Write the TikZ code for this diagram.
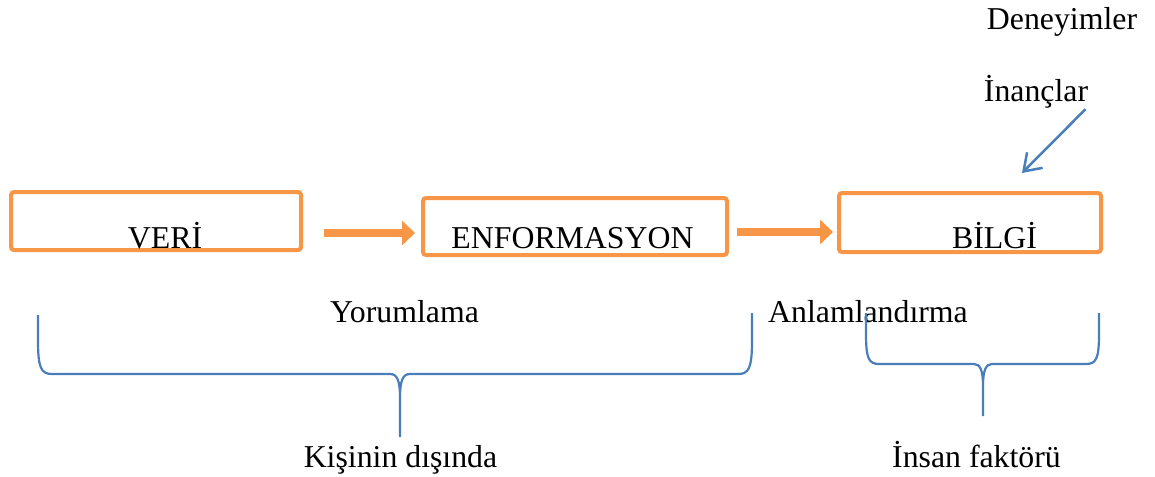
\documentclass[tikz,border=0pt]{standalone}
\usepackage{fontspec}
\setmainfont{Liberation Serif}
\usetikzlibrary{arrows.meta}
\definecolor{boxorange}{HTML}{F79646}
\definecolor{linkblue}{HTML}{4A7EBB}
\begin{document}
\begin{tikzpicture}[x=0.5pt,y=-0.5pt,
  every node/.style={font=\fontsize{15.9}{19}\selectfont},
  txt/.style={anchor=base,inner sep=0pt},
  stagebox/.style={draw=boxorange,line width=2pt,rounded corners=1.5pt,inner sep=0pt},
  flowarrow/.style={draw=boxorange,line width=4pt,-{Triangle[length=6.5pt,width=12pt]}},
  beliefarrow/.style={draw=linkblue,line width=1.25pt,-{Straight Barb[length=8pt,width=11pt]}},
  bracket/.style={draw=linkblue,line width=1.1pt}]
\useasboundingbox (0,0) rectangle (1155,476);

% stages
\node[stagebox,minimum width=145pt,minimum height=29pt] (veri) at (156,221) {};
\node[stagebox,minimum width=152pt,minimum height=28.5pt] (enf) at (575,226.5) {};
\node[stagebox,minimum width=131pt,minimum height=29.5pt] (bilgi) at (970,222.5) {};
\node[txt] (veritxt) at (165,248) {VERİ};
\node[txt] (enftxt) at (572.5,248) {ENFORMASYON};
\node[txt] (bilgitxt) at (994.5,248) {BİLGİ};

% flow between stages
\draw[flowarrow,shorten <=10.5pt,shorten >=3pt]
  ([yshift=-6pt]veri.east) -- ([yshift=-6pt]veri.east -| enf.west);
\draw[flowarrow,shorten <=4pt,shorten >=2pt]
  ([yshift=-2.75pt]enf.east) -- ([yshift=-2.75pt]enf.east -| bilgi.west);

% influences on knowledge
\node[txt] (deney) at (1062,30) {Deneyimler};
\node[txt] (inanc) at (1036,102) {İnançlar};
\coordinate (inanctip) at (1022,173);
\draw[beliefarrow] ([xshift=-1.5pt]inanc.south east) -- (inanctip);

% process labels
\node[txt] (yorum) at (404.5,322) {Yorumlama};
\node[txt] (anlam) at (868,322) {Anlamlandırma};

% brackets
\coordinate (tipA) at (400,437);
\draw[bracket] (38,315) -- (38,340) .. controls (38,368) and (41,374) .. (52,374)
  -- (390,374) .. controls (397,374) and (400,380) .. (400,398) -- (tipA)
  -- (400,398) .. controls (400,380) and (403,374) .. (410,374)
  -- (738,374) .. controls (749,374) and (752,368) .. (752,340) -- (752,313);
\coordinate (tipB) at (983,416);
\draw[bracket] (866,313) -- (866,334) .. controls (866,359) and (869,364) .. (879,364)
  -- (974,364) .. controls (980,364) and (983,370) .. (983,386) -- (tipB)
  -- (983,386) .. controls (983,370) and (986,364) .. (992,364)
  -- (1086,364) .. controls (1096,364) and (1099,359) .. (1099,334) -- (1099,313);

\node[txt] (kisi) at (400.5,467) {Kişinin dışında};
\node[txt] (insan) at (976.5,467) {İnsan faktörü};
\end{tikzpicture}
\end{document}
